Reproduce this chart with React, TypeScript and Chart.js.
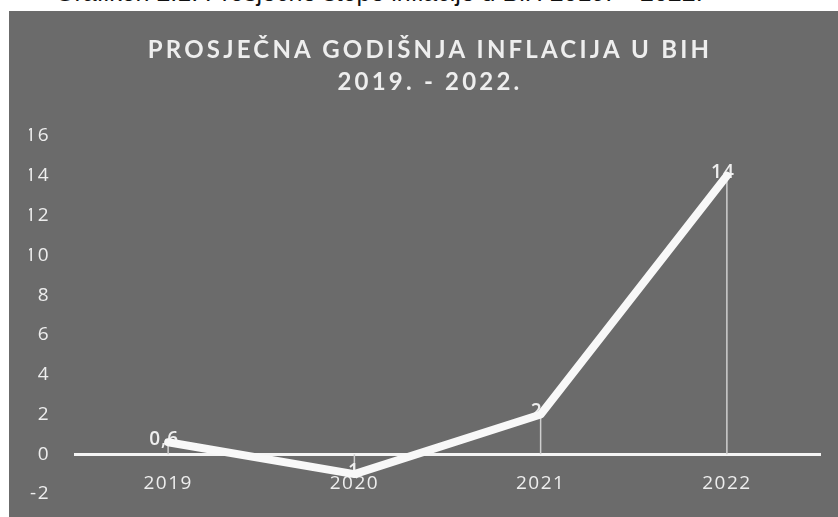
import React, { useEffect, useRef } from "react";
import { Chart, registerables } from "chart.js";

Chart.register(...registerables);

const categories = ["2019", "2020", "2021", "2022"];
const inflation = [0.6, -1, 2, 14];
const valueLabels = ["0,6", "-1", "2", "14"];
const yMin = -2;
const yMax = 16;
const yStep = 2;
const titleLines = ["PROSJEČNA GODIŠNJA INFLACIJA U BIH", "2019. - 2022."];
const caption = "Grafikon 2.1: Prosječne stope inflacije u BiH 2019. – 2022.";

const BG = "#6b6b6b";
const FG = "#eeeeee";
const FONT = "'Open Sans', 'DejaVu Sans', sans-serif";

const spacingPlugin = {
  id: "spacing",
  beforeDraw(chart: any) {
    chart.ctx.letterSpacing = "1.5px";
  },
};

const dropLinesAndLabels = {
  id: "dropLines",
  beforeDatasetsDraw(chart: any) {
    const { ctx, scales } = chart;
    const x = scales.x;
    const y = scales.y;
    const y0 = y.getPixelForValue(0);
    ctx.save();
    ctx.strokeStyle = "#cfcfcf";
    ctx.lineWidth = 1.5;
    inflation.forEach((v, i) => {
      const px = x.getPixelForValue(i);
      const py = y.getPixelForValue(v);
      ctx.beginPath();
      ctx.moveTo(px, py);
      ctx.lineTo(px, y0);
      ctx.stroke();
    });
    ctx.fillStyle = FG;
    ctx.font = `600 19px ${FONT}`;
    ctx.letterSpacing = "1px";
    ctx.textAlign = "center";
    ctx.textBaseline = "middle";
    valueLabels.forEach((t, i) => {
      const px = x.getPixelForValue(i);
      const py = y.getPixelForValue(inflation[i]);
      ctx.fillText(t, px - 4, py - 3);
    });
    ctx.restore();
  },
};

export default function App() {
  const ref = useRef<HTMLCanvasElement | null>(null);

  useEffect(() => {
    if (!ref.current) return;
    const chart = new Chart(ref.current, {
      type: "line",
      data: {
        labels: categories,
        datasets: [
          {
            data: inflation,
            borderColor: "#f8f8f8",
            borderWidth: 8,
            pointRadius: 0,
            tension: 0,
            borderCapStyle: "round",
            borderJoinStyle: "round",
          },
        ],
      },
      options: {
        animation: false,
        responsive: false,
        maintainAspectRatio: false,
        layout: { padding: { top: 125, left: 20, right: 18, bottom: 23 } },
        plugins: {
          legend: { display: false },
          tooltip: { enabled: false },
          title: { display: false },
        },
        scales: {
          x: {
            position: { y: 0 } as any,
            offset: true,
            grid: { display: false, drawTicks: false },
            border: { display: true, color: "#f4f4f4", width: 3 },
            ticks: {
              color: FG,
              font: { family: FONT, size: 19 },
              padding: 18,
              maxRotation: 0,
            },
            afterFit(scale: any) {
              scale.height = 0;
            },
          },
          y: {
            min: yMin,
            max: yMax,
            grid: { display: false, drawTicks: true, tickLength: 25 },
            border: { display: false },
            ticks: {
              stepSize: yStep,
              color: FG,
              font: { family: FONT, size: 19 },
              padding: 0,
            },
            afterFit(scale: any) {
              scale.width = 46;
            },
          },
        },
      },
      plugins: [spacingPlugin, dropLinesAndLabels],
    });
    return () => chart.destroy();
  }, []);

  return (
    <div
      style={{
        position: "fixed",
        left: 0,
        top: 0,
        width: 838,
        height: 517,
        background: "#ffffff",
        overflow: "hidden",
      }}
    >
      <div
        style={{
          position: "absolute",
          left: 55,
          top: -23,
          fontFamily: "'Liberation Sans', Arial, sans-serif",
          fontSize: 25,
          lineHeight: "30px",
          color: "#111",
          whiteSpace: "nowrap",
        }}
      >
        {caption}
      </div>
      <div
        style={{
          position: "absolute",
          left: 9,
          top: 11,
          width: 829,
          height: 506,
          background: BG,
        }}
      >
        <canvas ref={ref} width={829} height={506} style={{ display: "block" }} />
        <div
          style={{
            position: "absolute",
            left: 0,
            top: 22,
            width: 842,
            textAlign: "center",
            color: FG,
            fontFamily: "Lato, 'Open Sans', sans-serif",
            fontWeight: 700,
            fontSize: 24,
            letterSpacing: "3.2px",
            lineHeight: "32px",
          }}
        >
          <div>{titleLines[0]}</div>
          <div>{titleLines[1]}</div>
        </div>
      </div>
    </div>
  );
}
